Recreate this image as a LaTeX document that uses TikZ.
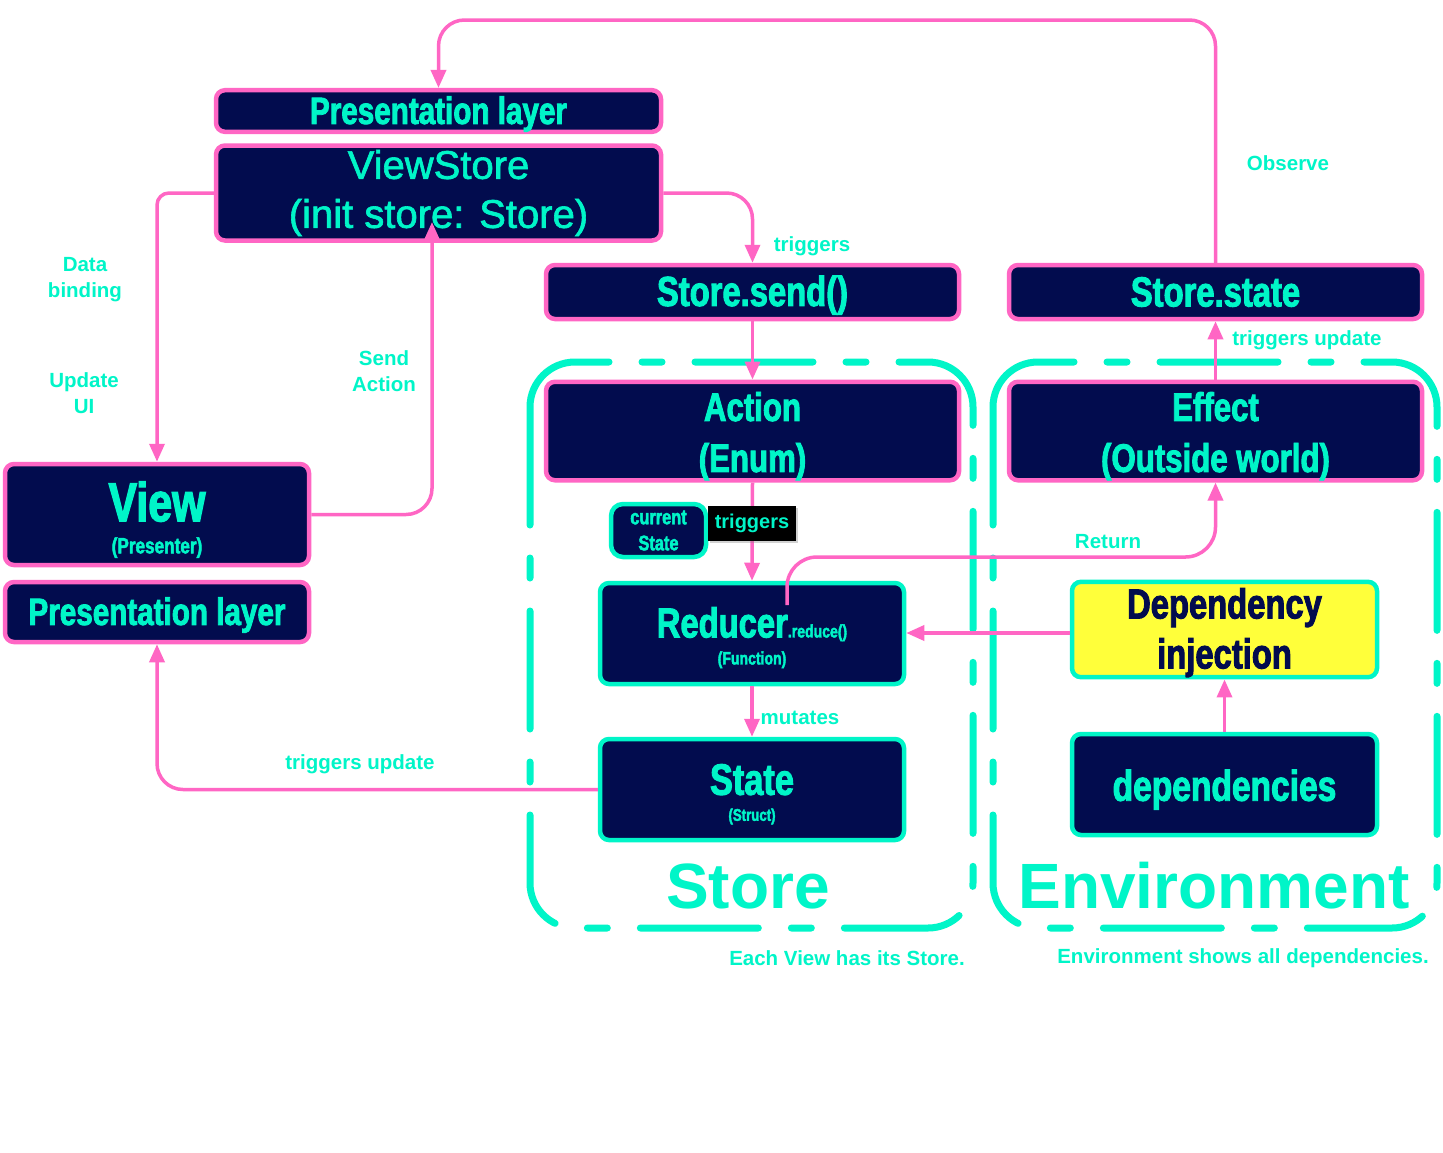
\documentclass[tikz,border=0pt]{standalone}
\usepackage{fontspec}
\setmainfont{Liberation Sans}
\newfontfamily\condf{Liberation Sans}[FakeStretch=0.78, FakeBold=2.2]
\newfontfamily\medf{Liberation Sans}[FakeBold=1.6]
\usetikzlibrary{arrows.meta,calc,shadows}
\newcommand\fsz[2]{\fontsize{#1}{#2}\selectfont}
\newcommand\dn[1]{\rule{0pt}{\dimexpr 0.73em+#1\relax}}
\definecolor{navyc}{HTML}{020C4E}
\definecolor{pinkc}{HTML}{FF66C4}
\definecolor{cyanc}{HTML}{00F5C8}
\definecolor{yellc}{HTML}{FFFF3A}
\begin{document}
\begin{tikzpicture}[x=1pt,y=-1pt,
  box/.style={draw, rounded corners=9pt, line width=4.5pt, fill=navyc, inner sep=0pt, text=cyanc, align=center},
  pinkbox/.style={box, draw=pinkc},
  cyanbox/.style={box, draw=cyanc},
  cbold/.style={font=\condf\bfseries\fsz{#1}{#1}},
  conn/.style={draw=pinkc, line width=3.5pt, rounded corners=26pt},
  arr/.style={conn, -{Triangle[length=18pt,width=15pt]}},
  grp/.style={draw=cyanc, line width=7pt, line cap=round, rounded corners=45pt,
     dash pattern=on 118pt off 33pt on 20pt off 33pt},
  lbl/.style={text=cyanc, font=\bfseries\fsz{20.5}{26}, align=center, inner sep=0pt},
  biglbl/.style={text=cyanc, font=\bfseries\fsz{64}{70}, inner sep=0pt}
]
\useasboundingbox[fill=white] (0,0) rectangle (1443,1152);

% groups
\draw[grp] (530,362) rectangle (973,928);
\draw[grp] (993,362) rectangle (1437,928);

% boxes
\node[pinkbox, minimum width=445pt, minimum height=38pt, cbold=38] (plTop) at (438.5,111) {\dn{6pt}Presentation layer};
\node[pinkbox, minimum width=445pt, minimum height=95pt, font=\medf\fsz{40}{49}] (vs) at (438.5,193) {ViewStore\\(init store: Store)};
\node[pinkbox, minimum width=413pt, minimum height=54pt, cbold=42] (send) at (752.5,292) {\dn{6pt}Store.send()};
\node[pinkbox, minimum width=413pt, minimum height=54pt, cbold=42] (sstate) at (1215.5,292) {Store.state};
\node[pinkbox, minimum width=413pt, minimum height=92pt, font=\condf\bfseries\fsz{40}{51}] (action) at (752.5,431) {\dn{10pt}Action\\(Enum)};
\node[pinkbox, minimum width=413pt, minimum height=92pt, font=\condf\bfseries\fsz{40}{51}] (effect) at (1215.5,431) {\dn{10pt}Effect\\(Outside world)};
\node[cyanbox, rounded corners=12pt, minimum width=95pt, minimum height=53pt, font=\condf\bfseries\fsz{21}{26}] (cur) at (658.5,530.5) {current\\State};
\node[cyanbox, minimum width=304pt, minimum height=101pt, font=\condf\bfseries\fsz{42}{27}] (reducer) at (752,633.5) {\dn{8pt}Reducer{\fsz{18}{20}.reduce()}\\{\fsz{18}{20}(Function)}};
\node[cyanbox, minimum width=304pt, minimum height=101pt, font=\condf\bfseries\fsz{44}{26}] (state) at (752,789.5) {\dn{8pt}State\\{\fsz{17}{20}(Struct)}};
\node[cyanbox, fill=yellc, text=navyc, minimum width=305pt, minimum height=93pt, font=\condf\bfseries\fsz{42}{50}] (di) at (1224.5,629.5) {\dn{6pt}Dependency\\injection};
\node[cyanbox, minimum width=305pt, minimum height=101pt, cbold=43] (deps) at (1224.5,784.5) {\dn{10pt}dependencies};
\node[pinkbox, minimum width=304pt, minimum height=101pt, font=\condf\bfseries\fsz{55}{32}] (view) at (157,514.5) {\dn{10pt}View\\{\fsz{22}{26}(Presenter)}};
\node[pinkbox, minimum width=304pt, minimum height=60pt, cbold=38] (plBot) at (157,612) {\dn{6pt}Presentation layer};

% helper coordinates
\coordinate (topY) at (0,20);
\coordinate (saTip) at (432,222);
\coordinate (retS) at (787,605);
\coordinate (retY) at (0,557);

% connectors
\draw[arr] (sstate.north) |- (topY -| plTop.north) -- (plTop.north);
\draw[arr, rounded corners=12pt] (vs.west) -| (view.north);
\draw[arr] (view.east) -| (saTip);
\draw[arr] (vs.east) -| (send.north);
\draw[arr] (send.south) -- (action.north);
\draw[arr] (action.south) -- (reducer.north);
\draw[arr, rounded corners=30pt] (retS) |- (retY -| effect.south) -- (effect.south);
\draw[arr] (effect.north) -- (sstate.south);
\draw[arr] (di.west |- 0,633) -- (reducer.east |- 0,633);
\draw[arr] (deps.north) -- (di.south);
\draw[arr] (reducer.south) -- (state.north);
\draw[arr] (state.west) -| (plBot.south);

% black triggers label
\node[fill=black, text=cyanc, font=\bfseries\fsz{20}{24}, minimum width=88pt, minimum height=35pt, inner sep=0pt,
  drop shadow={shadow xshift=2pt, shadow yshift=-2pt, opacity=0.35}] (trig) at (752,523.5) {triggers};

% labels
\node[lbl] (obs) at (1288,163) {Observe};
\node[lbl] (trig1) at (812,246) {triggers};
\node[lbl] (db) at (85,280) {Data\\binding};
\node[lbl] (uui) at (84,393) {Update\\UI};
\node[lbl] (sa) at (384,371) {Send\\Action};
\node[lbl] (tu1) at (1307,340) {triggers update};
\node[lbl] (ret) at (1108,542) {Return};
\node[lbl] (mut) at (800,718) {mutates};
\node[lbl] (tu2) at (360,764) {triggers update};
\node[lbl] (cap1) at (847,958) {Each View has its Store.};
\node[lbl] (cap2) at (1243,958) {Environment shows all dependencies.};

% big group labels
\node[biglbl] (storeL) at (748,886) {Store};
\node[biglbl] (envL) at (1214,886) {Environment};
\end{tikzpicture}
\end{document}
